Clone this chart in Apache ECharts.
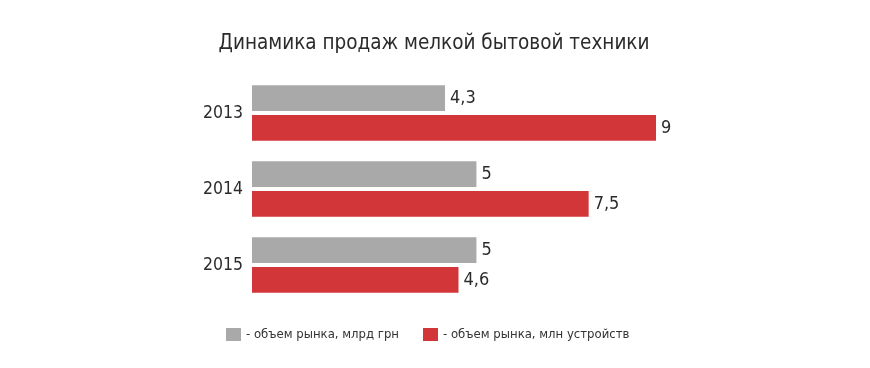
<!DOCTYPE html>
<html><head><meta charset="utf-8">
<script src="https://cdn.jsdelivr.net/npm/echarts@6/dist/echarts.min.js"></script>
<style>html,body{margin:0;padding:0;background:#fff}#c{width:870px;height:368px}</style>
</head><body><div id="c"></div>
<script>
var categories = ['2013', '2014', '2015'];
var seriesNames = ['- объем рынка, млрд грн', '- объем рынка, млн устройств'];
var marketUAH = [4.3, 5, 5];
var marketUnits = [9, 7.5, 4.6];
var FONT = '"Liberation Sans Narrow", "DejaVu Sans Condensed", sans-serif';
var chart = echarts.init(document.getElementById('c'), null, {renderer: 'canvas'});
function fmt(p){ return String(p.value).replace('.', ','); }
chart.setOption({
  animation: false,
  title: {
    text: 'Динамика продаж мелкой бытовой техники',
    left: 429, top: 28, textAlign: 'center',
    textStyle: {fontFamily: FONT, fontSize: 20.5, fontWeight: 'normal', color: '#2b2b2b'}
  },
  legend: {
    left: 221, top: 323, itemWidth: 15, itemHeight: 13, itemGap: 24,
    icon: 'rect',
    textStyle: {fontFamily: FONT, fontSize: 13, color: '#333'},
    data: seriesNames
  },
  grid: {left: 252, top: 75, width: 404, height: 228},
  xAxis: {type: 'value', min: 0, max: 9, show: false},
  yAxis: {
    type: 'category', data: categories, inverse: true,
    axisLine: {show: false}, axisTick: {show: false},
    axisLabel: {fontFamily: FONT, fontSize: 17.5, color: '#2b2b2b', margin: 9}
  },
  series: [
    {name: seriesNames[0], type: 'bar', data: marketUAH, itemStyle: {color: '#a9a9a9'},
     barGap: '16%', barCategoryGap: '27%',
     label: {show: true, position: 'right', distance: 5, formatter: fmt,
             fontFamily: FONT, fontSize: 18, color: '#2b2b2b'}},
    {name: seriesNames[1], type: 'bar', data: marketUnits, itemStyle: {color: '#d33638'},
     barGap: '16%', barCategoryGap: '27%',
     label: {show: true, position: 'right', distance: 5, formatter: fmt,
             fontFamily: FONT, fontSize: 18, color: '#2b2b2b'}}
  ]
});
</script></body></html>
